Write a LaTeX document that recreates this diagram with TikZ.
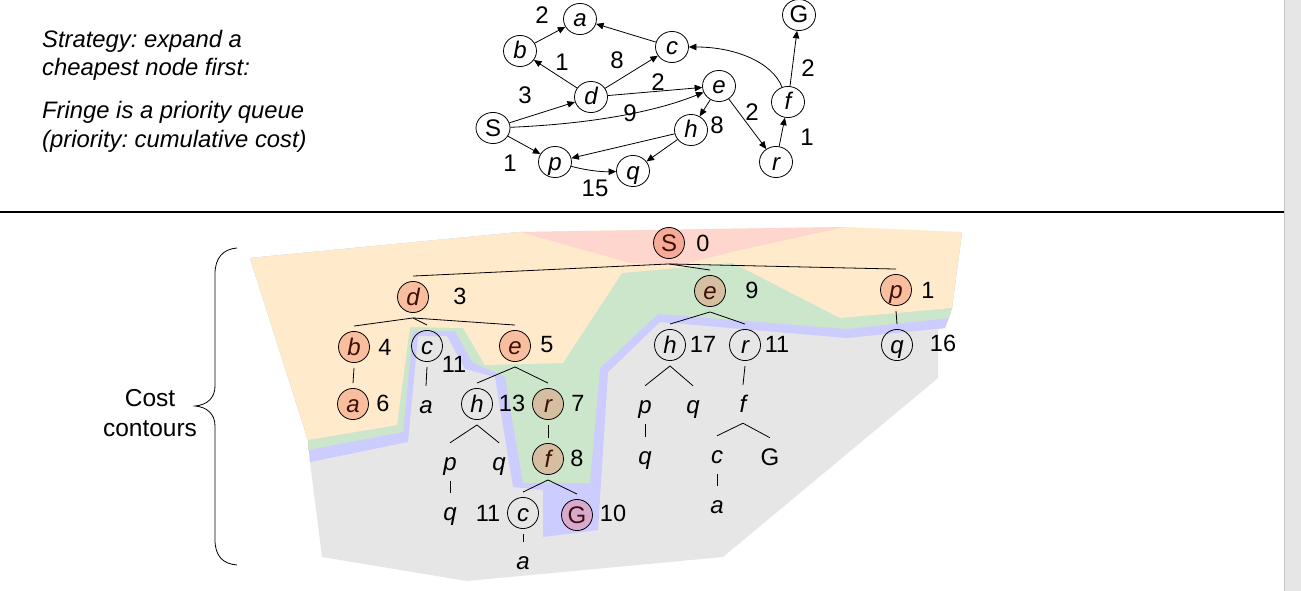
\documentclass[tikz,border=0pt]{standalone}
\usepackage{fontspec}
\setmainfont{Liberation Sans}
\usetikzlibrary{shapes.geometric,arrows.meta}
\definecolor{cS}{RGB}{247,170,150}
\definecolor{cSal}{RGB}{249,190,158}
\definecolor{cTan}{RGB}{214,191,160}
\definecolor{cPink}{RGB}{216,170,206}
\definecolor{rPink}{RGB}{255,214,206}
\definecolor{rOrange}{RGB}{255,234,204}
\definecolor{rGreen}{RGB}{204,230,204}
\definecolor{rBlue}{RGB}{204,204,255}
\definecolor{rGray}{RGB}{230,230,230}
\definecolor{sbar}{RGB}{230,230,230}
\definecolor{sbline}{RGB}{200,200,200}
\definecolor{ink}{RGB}{60,15,10}
\newcommand\myfs{\fontsize{23.5}{27}\selectfont}
\newcommand\edfs{\fontsize{24}{28}\selectfont}
\newcommand\letfs{\fontsize{24}{28}\selectfont}
\newcommand\bigfs{\fontsize{23.8}{28}\selectfont}
\newcommand\ccfs{\fontsize{24.5}{30}\selectfont}
\frenchspacing
\begin{document}
\begin{tikzpicture}[x=1pt,y=-1pt,
  gn/.style={ellipse, draw, line width=0.8pt, minimum width=33pt, minimum height=28pt, inner sep=0pt, font=\letfs\itshape, text height=19pt, text depth=3pt},
  arr/.style={-{Triangle[length=7.5pt,width=6.5pt]}, line width=0.8pt},
  lbl/.style={font=\edfs, inner sep=0pt},
  tn/.style={ellipse, draw, line width=0.8pt, minimum width=31pt, minimum height=28pt, inner sep=0pt, font=\letfs\itshape, text height=19pt, text depth=3pt},
  fl/.style={text=ink},
  tt/.style={minimum height=28pt, inner sep=0pt, font=\letfs\itshape, text height=19pt, text depth=3pt},
  num/.style={font=\myfs, inner sep=0pt},
  tedge/.style={line width=0.8pt}
]
\useasboundingbox (0,0) rectangle (1301,591);
\fill[white] (0,0) rectangle (1301,591);

% ---------- cost contour regions ----------
\fill[rGray] (250,258) -- (520,232) -- (962,232) -- (952,308) -- (945,328) -- (938,330) -- (938,378) -- (723,557) -- (467,581) -- (322,557) -- (310,462) -- (308,440) -- cycle;
\fill[rBlue] (250,258) -- (520,232) -- (962,232) -- (952,308) -- (949,318) -- (945,328) -- (847,338) -- (660,322) -- (608,372) -- (598,530) -- (543,537) -- (543,490) -- (513,487) -- (495,377) -- (465,369) -- (447,336) -- (418,336) -- (408,442) -- (310,462) -- (308,440) -- cycle;
\fill[rGreen] (250,258) -- (520,232) -- (962,232) -- (952,308) -- (949,318) -- (847,329) -- (658,314) -- (600,368) -- (590,483) -- (523,483) -- (505,377) -- (472,362) -- (455,331) -- (413,331) -- (403,432) -- (308,450) -- (308,440) -- cycle;
\fill[rOrange] (250,258) -- (520,232) -- (845,227) -- (962,232) -- (952,308) -- (840,318) -- (733,263) -- (622,273) -- (563,363) -- (485,365) -- (463,328) -- (410,327) -- (397,425) -- (308,440) -- cycle;
\fill[rPink] (520,232) -- (845,227) -- (740,250) -- (680,265) -- (630,263) -- cycle;

% ---------- header text ----------
\node[anchor=base west, font=\bigfs\itshape, inner sep=0pt] (t1) at (42,48) {Strategy: expand a};
\node[anchor=base west, font=\bigfs\itshape, inner sep=0pt] (t2) at (42,76) {cheapest node first:};
\node[anchor=base west, font=\bigfs\itshape, inner sep=0pt] (t3) at (42,119) {Fringe is a priority queue};
\node[anchor=base west, font=\bigfs\itshape, inner sep=0pt] (t4) at (42,148) {(priority: cumulative cost)};

% ---------- state graph ----------
\node[gn, font=\letfs, minimum width=34pt, minimum height=30pt] (gS) at (493,128) {S};
\node[gn] (ga) at (580,19) {a};
\node[gn] (gb) at (520,51) {b};
\node[gn] (gc) at (672,47) {c};
\node[gn] (gd) at (591,97) {d};
\node[gn] (ge) at (719,86) {e};
\node[gn] (gh) at (691,130) {h};
\node[gn] (gp) at (555,162) {p};
\node[gn] (gq) at (633,171) {q};
\node[gn] (gr) at (776,162) {r};
\node[gn] (gf) at (788,102) {f};
\node[gn, font=\letfs] (gG) at (799,15) {G};

\draw[arr] (gb) -- (ga);
\draw[arr] (gc) -- (ga);
\draw[arr] (gd) -- (gb);
\draw[arr] (gd) -- (gc);
\draw[arr] (gd) -- (ge);
\draw[arr] (gS) -- (gd);
\draw[arr] (gS) .. controls (590,124) and (655,112) .. (ge);
\draw[arr] (ge) -- (gh);
\draw[arr] (ge) -- (gr);
\draw[arr] (gh) -- (gp);
\draw[arr] (gh) -- (gq);
\draw[arr] (gS) -- (gp);
\draw[arr] (gp) .. controls (585,170) and (600,172) .. (gq);
\draw[arr] (gr) -- (gf);
\draw[arr] (gf) -- (gG);
\draw[arr] (gf) .. controls (772,62) and (735,47) .. (gc);

\node[lbl] (l1) at (542,15) {2};
\node[lbl] (l2) at (562,62) {1};
\node[lbl] (l3) at (617,60) {8};
\node[lbl] (l4) at (658,82) {2};
\node[lbl] (l5) at (525,95) {3};
\node[lbl] (l6) at (630,113) {9};
\node[lbl] (l7) at (717,125) {8};
\node[lbl] (l8) at (752,112) {2};
\node[lbl] (l9) at (510,163) {1};
\node[lbl] (l10) at (595,188) {15};
\node[lbl] (l11) at (807,137) {1};
\node[lbl] (l12) at (808,68) {2};

% ---------- separators ----------
\draw[line width=1.2pt] (0,212) -- (1284,212);
\fill[sbar] (1284,0) rectangle (1301,591);
\draw[sbline, line width=1pt] (1284.5,0) -- (1284.5,591);

% ---------- brace + label ----------
\draw[line width=0.8pt] (237,248) .. controls (223,249) and (215,258) .. (215,274) -- (215,386) .. controls (215,398) and (207,405) .. (195,406) .. controls (207,407) and (215,414) .. (215,426) -- (215,540) .. controls (215,556) and (223,564) .. (237,565);
\node[font=\ccfs, align=center, inner sep=0pt] (cc) at (150,413) {Cost\\contours};

% ---------- search tree ----------
\node[tn, fill=cS, fl, font=\letfs] (tS) at (669,243) {S};
\node[num] (n0) at (703,243) {0};
\node[tn, fill=cSal, fl] (td) at (413,297) {d};
\node[num] (n3) at (460,296) {3};
\node[tn, fill=cTan, fl] (te9) at (710,291) {e};
\node[num] (n9) at (752,290) {9};
\node[tn, fill=cSal, fl] (tp1) at (896,290) {p};
\node[num] (n1) at (928,290) {1};
\node[tn, fill=cSal, fl] (tb) at (354,347) {b};
\node[num] (n4) at (385,347) {4};
\node[tn] (tc11) at (427,346) {c};
\node[num] (n11a) at (454,364) {11};
\node[tn, fill=cSal, fl] (te5) at (515,346) {e};
\node[num] (n5) at (547,345) {5};
\node[tn] (th17) at (670,345) {h};
\node[num] (n17) at (703,344) {17};
\node[tn] (tr11) at (745,345) {r};
\node[num] (n11b) at (777,344) {11};
\node[tn] (tq16) at (897,345) {q};
\node[num] (n16) at (943,343) {16};
\node[tn, fill=cSal, fl] (ta6) at (353,404) {a};
\node[num] (n6) at (383,403) {6};
\node[tt] (ta1) at (426,405) {a};
\node[tn] (th13) at (477,404) {h};
\node[num] (n13) at (512,403) {13};
\node[tn, fill=cTan, fl] (tr7) at (548,404) {r};
\node[num] (n7) at (578,403) {7};
\node[tt] (tp2) at (645,405) {p};
\node[tt] (tq2) at (693,405) {q};
\node[tt] (tf2) at (743,404) {f};
\node[tt] (tp3) at (450,462) {p};
\node[tt] (tq4) at (499,462) {q};
\node[tn, fill=cTan, fl] (tf8) at (548,459) {f};
\node[num] (n8) at (577,458) {8};
\node[tt] (tq3) at (645,456) {q};
\node[tt] (tc2) at (717,455) {c};
\node[tt, font=\letfs] (tG2) at (770,457) {G};
\node[tt] (ta2) at (717,505) {a};
\node[tt] (tq5) at (450,512) {q};
\node[num] (n11c) at (488,513) {11};
\node[tn] (tc3) at (523,513) {c};
\node[tn, fill=cPink, fl, font=\letfs] (tG10) at (577,515) {G};
\node[num] (n10) at (613,513) {10};
\node[tt] (ta3) at (523,561) {a};

\foreach \p/\c in {tS/td, tS/te9, tS/tp1, td/tb, td/tc11, td/te5, te9/th17, te9/tr11, tp1/tq16, tb/ta6, tc11/ta1, te5/th13, te5/tr7, th17/tp2, th17/tq2, tr11/tf2, tp2/tq3, tf2/tc2, tf2/tG2, tc2/ta2, th13/tp3, th13/tq4, tr7/tf8, tp3/tq5, tf8/tc3, tf8/tG10, tc3/ta3}
  \draw[tedge] ([yshift=-5pt]\p.south) -- ([yshift=5pt]\c.north);
\end{tikzpicture}
\end{document}
